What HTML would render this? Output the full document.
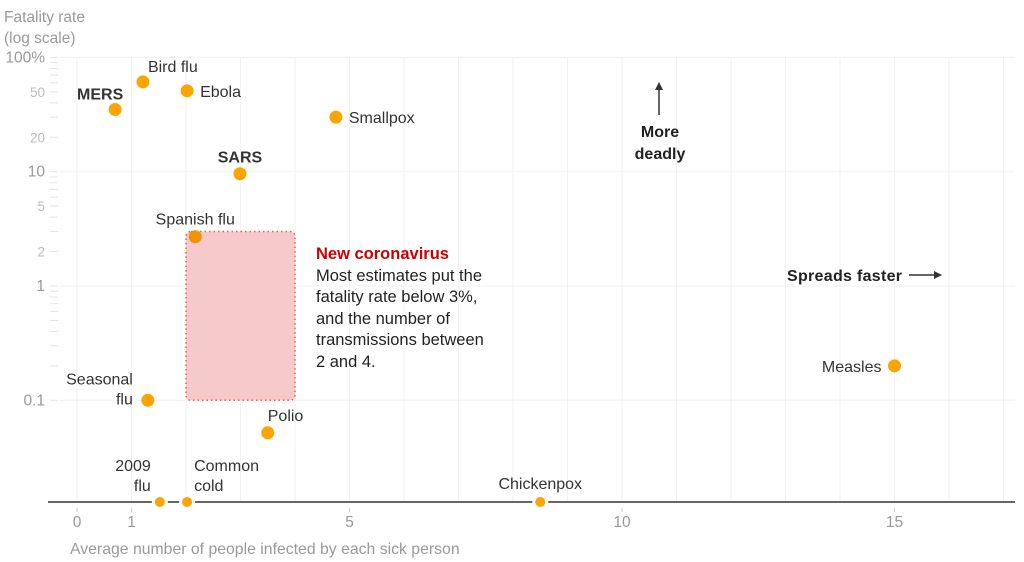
<!DOCTYPE html>
<html><head><meta charset="utf-8">
<style>
body{margin:0;background:#fff;}
svg{display:block;font-family:"Liberation Sans",sans-serif;}
</style></head>
<body>
<svg id="chart" width="1024" height="562" viewBox="0 0 1024 562" xmlns="http://www.w3.org/2000/svg">
<g id="grid"></g>
<g id="yaxis"></g>
<g id="xaxis"></g>
<g id="marks"></g>
<text x="4" y="22" font-size="15.5" fill="#999">Fatality rate</text>
<text x="4" y="43" font-size="15.5" fill="#999">(log scale)</text>
<text x="70" y="554" font-size="15.8" fill="#999">Average number of people infected by each sick person</text>
<g>
<line x1="659" y1="115" x2="659" y2="88" stroke="#333" stroke-width="1.5"/>
<polygon points="655,90 659,82 663,90" fill="#333"/>
<text x="660" y="137" font-size="16" font-weight="bold" fill="#222" text-anchor="middle">More</text>
<text x="660" y="159" font-size="16" font-weight="bold" fill="#222" text-anchor="middle">deadly</text>
</g>
<g>
<text x="787" y="281" font-size="16" font-weight="bold" fill="#222" textLength="115">Spreads faster</text>
<line x1="909" y1="275" x2="936" y2="275" stroke="#333" stroke-width="1.5"/>
<polygon points="934,271 942,275 934,279" fill="#333"/>
</g>
<g font-size="16.5" fill="#222">
<text x="316" y="259" font-weight="bold" fill="#cc0000">New coronavirus</text>
<text x="316" y="281">Most estimates put the</text>
<text x="316" y="302">fatality rate below 3%,</text>
<text x="316" y="324">and the number of</text>
<text x="316" y="345">transmissions between</text>
<text x="316" y="367">2 and 4.</text>
</g>
</svg>
<script>
const names = ["MERS","Bird flu","Ebola","Smallpox","SARS","Spanish flu","Seasonal flu","Polio","Measles","2009 flu","Common cold","Chickenpox"];
const r0 = [0.7,1.21,2.02,4.75,2.99,2.17,1.3,3.5,15,1.52,2.02,8.5];
const fatality = [35,61,51,30,9.6,2.7,0.1,0.052,0.2,0,0,0];
const covidR0 = [2,4];
const covidFatality = [0.1,3];
const yLabels = [100,50,20,10,5,2,1,0.1];
const xLabels = [0,1,5,10,15];

const NS="http://www.w3.org/2000/svg";
const x = v => 77 + v*54.5;
const y = v => v<=0 ? 502 : 286 - 114.3*Math.log10(v);
function mk(tag, attrs, parent, text){const e=document.createElementNS(NS,tag);for(const k in attrs)e.setAttribute(k,attrs[k]);if(text!==undefined)e.textContent=text;parent.appendChild(e);return e;}
const grid=document.getElementById('grid'), ya=document.getElementById('yaxis'), xa=document.getElementById('xaxis'), marks=document.getElementById('marks');

for(let i=0;i<=17;i++){
  const l=mk('line',{x1:x(i),x2:x(i),y1:57,y2:502,stroke:'#f2f2f2','stroke-width':1},grid);
  
  
}
[100,10,1,0.1].forEach(v=>{
  const l=mk('line',{x1:60,x2:1015,y1:y(v),y2:y(v),stroke:'#f0f0f0','stroke-width':1},grid);
  
  
});
[0.1,1,10].forEach(d=>{for(let m=1;m<=9;m++){const v=d*m; if(v<0.1)continue;
  const t=mk('line',{x1:50,x2:58,y1:y(v),y2:y(v),stroke:'#e4e4e4','stroke-width':1},ya);
  
  }});
const t100=mk('line',{x1:50,x2:58,y1:y(100),y2:y(100),stroke:'#e4e4e4'},ya);


yLabels.forEach(v=>{
  const major=[100,10,1,0.1].includes(v);
  const t=mk('text',{x:45,y:y(v)+5,'font-size':major?15.5:13.5,fill:major?'#999':'#bbb','text-anchor':'end'},ya,v===100?'100%':String(v));
  
  
});
const base=mk('line',{x1:48,x2:1015,y1:502,y2:502,stroke:'#333','stroke-width':1.5},xa);


xLabels.forEach(v=>{
  const tk=mk('line',{x1:x(v),x2:x(v),y1:508,y2:512,stroke:'#ccc'},xa);
  
  
  const t=mk('text',{x:x(v),y:527,'font-size':15.5,fill:'#999','text-anchor':'middle'},xa,String(v));
  
  
});
const box=mk('rect',{x:x(covidR0[0]),y:y(covidFatality[1]),width:x(covidR0[1])-x(covidR0[0]),height:y(covidFatality[0])-y(covidFatality[1]),rx:5,fill:'#f6caca',stroke:'#e8603c','stroke-width':1.5,'stroke-dasharray':'1.5 3'},marks);



const lab={
 "MERS":[-15,-10,'middle',1,["MERS"]],
 "Bird flu":[5,-10,'start',0,["Bird flu"]],
 "Ebola":[13,6,'start',0,["Ebola"]],
 "Smallpox":[13,6,'start',0,["Smallpox"]],
 "SARS":[0,-11,'middle',1,["SARS"]],
 "Spanish flu":[0,-12,'middle',0,["Spanish flu"]],
 "Seasonal flu":[-15,-16,'end',0,["Seasonal","flu"]],
 "Polio":[0,-12,'start',0,["Polio"]],
 "Measles":[-13,6,'end',0,["Measles"]],
 "2009 flu":[-9,-31,'end',0,["2009","flu"]],
 "Common cold":[7,-31,'start',0,["Common","cold"]],
 "Chickenpox":[0,-13,'middle',0,["Chickenpox"]]
};
names.forEach((n,i)=>{
  const cx=x(r0[i]), cy=y(fatality[i]);
  const c=mk('circle',{cx:cx,cy:cy,r:6.5,fill:(n==="Spanish flu")?'#f39200':'#fca400',stroke:'#fff','stroke-width':fatality[i]<=0?3:0},marks);
  
  
  const L=lab[n];
  L[4].forEach((s,j)=>{
    const t=mk('text',{x:cx+L[0],y:cy+L[1]+j*20,'font-size':16,fill:'#333','font-weight':L[3]?'bold':'normal','text-anchor':L[2]},marks,s);
    
    
  });
});
</script>
</body></html>
